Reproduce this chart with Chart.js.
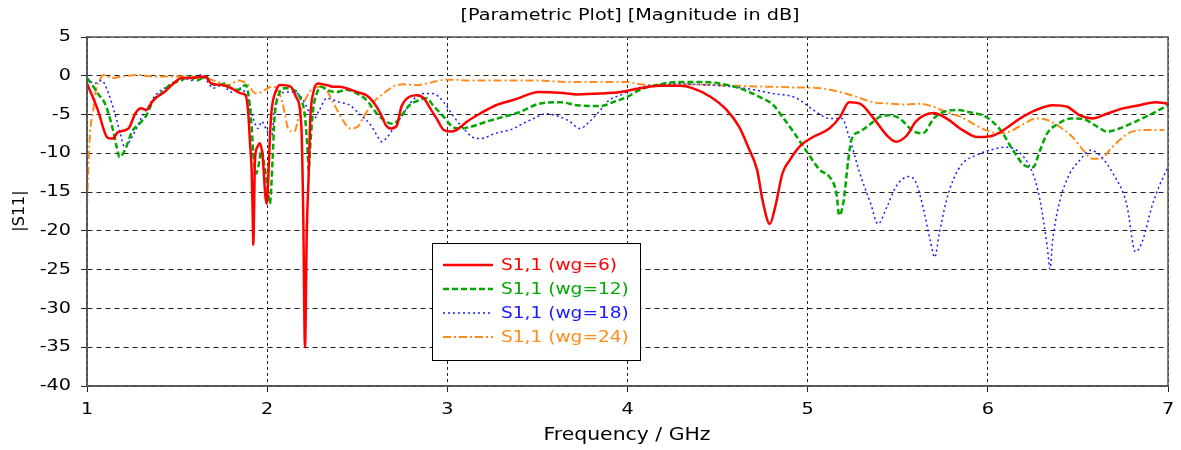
<!DOCTYPE html>
<html>
<head>
<meta charset="utf-8">
<script src="https://cdn.jsdelivr.net/npm/chart.js@4"></script>
<style>
html,body{margin:0;padding:0;background:#fff;}
#c{display:block;}
</style>
</head>
<body>
<canvas id="c" width="1181" height="450"></canvas>
<script>
const titleText = "[Parametric Plot] [Magnitude in dB]";
const xTitle = "Frequency / GHz";
const yTitle = "|S11|";
const seriesNames = ["S1,1 (wg=6)", "S1,1 (wg=12)", "S1,1 (wg=18)", "S1,1 (wg=24)"];

const redF  = [1.0,1.06,1.11,1.13,1.145,1.17,1.23,1.27,1.30,1.33,1.36,1.39,1.43,1.48,1.525,1.58,1.655,1.69,1.75,1.80,1.86,1.88,1.895,1.905,1.914,1.92,1.923,1.927,1.932,1.945,1.96,1.975,1.99,1.997,2.005,2.015,2.025,2.05,2.07,2.13,2.16,2.19,2.20,2.21,2.22,2.23,2.24,2.255,2.28,2.33,2.365,2.40,2.44,2.50,2.55,2.59,2.63,2.66,2.69,2.72,2.745,2.79,2.83,2.87,2.90,2.94,2.98,3.015,3.05,3.11,3.18,3.27,3.37,3.51,3.625,3.72,3.85,3.96,4.07,4.18,4.29,4.36,4.46,4.55,4.62,4.67,4.72,4.75,4.79,4.82,4.86,4.90,4.96,5.03,5.12,5.18,5.23,5.29,5.36,5.44,5.49,5.55,5.60,5.70,5.77,5.86,5.94,6.03,6.10,6.18,6.27,6.36,6.44,6.51,6.58,6.66,6.75,6.84,6.93,7.0];
const redDb = [-1.0,-4.4,-7.9,-8.1,-8.1,-7.3,-6.8,-4.8,-4.2,-4.4,-3.4,-2.7,-2.1,-1.0,-0.3,-0.3,-0.1,-1.0,-1.2,-1.6,-2.3,-2.5,-4.8,-8.7,-12.2,-18.2,-21.8,-18.0,-11.0,-9.2,-8.7,-10.5,-15.5,-16.5,-14.0,-8.0,-4.4,-1.9,-1.2,-1.4,-2.7,-6.6,-17.4,-35.0,-20.0,-13.0,-5.3,-2.3,-1.0,-1.2,-1.4,-1.4,-1.6,-2.1,-2.5,-3.4,-4.9,-6.4,-6.8,-6.4,-4.0,-2.7,-2.5,-2.9,-4.0,-5.5,-7.0,-7.2,-7.0,-5.9,-4.9,-3.8,-3.1,-2.1,-2.2,-2.4,-2.3,-2.1,-1.6,-1.3,-1.3,-1.6,-2.7,-4.4,-6.6,-9.2,-12.2,-16.1,-19.1,-16.9,-12.6,-10.9,-9.0,-7.9,-6.8,-5.3,-3.4,-3.6,-5.3,-7.7,-8.5,-7.7,-5.9,-4.8,-5.5,-7.0,-7.9,-7.7,-6.8,-5.5,-4.4,-3.8,-4.0,-5.1,-5.5,-4.9,-4.2,-3.8,-3.4,-3.6];

const greenF  = [1.0,1.03,1.06,1.10,1.14,1.165,1.18,1.21,1.25,1.29,1.33,1.37,1.41,1.47,1.525,1.56,1.61,1.66,1.69,1.73,1.765,1.80,1.84,1.88,1.895,1.914,1.923,1.94,1.95,1.97,1.98,2.0,2.015,2.03,2.04,2.06,2.10,2.145,2.18,2.21,2.225,2.23,2.24,2.255,2.275,2.30,2.33,2.385,2.44,2.50,2.55,2.61,2.66,2.70,2.74,2.79,2.85,2.885,2.92,2.98,3.03,3.07,3.125,3.22,3.31,3.40,3.51,3.625,3.72,3.85,3.92,4.0,4.07,4.16,4.27,4.40,4.51,4.62,4.73,4.81,4.86,4.92,4.99,5.07,5.12,5.16,5.175,5.20,5.225,5.245,5.29,5.35,5.40,5.455,5.51,5.59,5.64,5.70,5.75,5.83,5.90,5.99,6.07,6.14,6.20,6.25,6.29,6.33,6.39,6.46,6.53,6.61,6.66,6.73,6.82,6.91,7.0];
const greenDb = [-0.3,-1.2,-2.3,-3.6,-6.6,-9.2,-10.5,-9.6,-7.2,-6.2,-5.1,-3.1,-2.3,-1.0,-0.6,-0.1,-0.6,-0.1,-1.0,-1.2,-1.0,-1.6,-1.8,-1.2,-2.3,-6.6,-10.0,-12.6,-11.8,-9.6,-10.9,-14.0,-16.5,-10.9,-5.7,-2.7,-1.6,-1.8,-2.7,-5.3,-10.0,-12.2,-8.7,-4.4,-2.3,-1.4,-1.8,-2.1,-1.8,-2.3,-3.1,-4.9,-5.9,-6.2,-5.3,-3.8,-3.1,-2.9,-3.8,-5.3,-6.6,-6.8,-6.6,-5.9,-5.3,-4.7,-3.6,-3.4,-3.8,-3.9,-3.4,-2.7,-1.8,-1.2,-0.8,-0.8,-1.0,-1.6,-2.7,-3.8,-5.3,-7.2,-9.6,-12.2,-13.0,-15.2,-18.0,-16.1,-10.9,-8.1,-7.2,-6.2,-5.3,-5.1,-5.5,-7.2,-7.4,-5.5,-4.7,-4.4,-4.7,-5.3,-7.0,-9.6,-11.5,-11.8,-9.6,-7.4,-6.2,-5.5,-5.6,-6.6,-7.2,-6.8,-5.9,-4.9,-3.8];

const blueF  = [1.0,1.04,1.08,1.12,1.155,1.18,1.21,1.24,1.27,1.30,1.34,1.38,1.43,1.49,1.54,1.58,1.63,1.67,1.70,1.75,1.80,1.85,1.895,1.92,1.95,1.97,1.997,2.025,2.04,2.07,2.125,2.17,2.22,2.255,2.29,2.33,2.40,2.46,2.51,2.57,2.61,2.635,2.66,2.70,2.755,2.81,2.87,2.92,2.98,3.03,3.09,3.14,3.18,3.27,3.37,3.40,3.48,3.55,3.625,3.68,3.735,3.79,3.85,3.90,3.96,4.02,4.09,4.18,4.27,4.36,4.47,4.58,4.70,4.81,4.92,4.96,5.05,5.12,5.19,5.23,5.29,5.35,5.39,5.44,5.49,5.56,5.60,5.64,5.68,5.705,5.73,5.77,5.81,5.86,5.94,6.01,6.10,6.18,6.25,6.29,6.33,6.345,6.36,6.40,6.455,6.51,6.57,6.62,6.695,6.77,6.82,6.86,6.91,6.95,7.0];
const blueDb = [-0.3,-1.0,-0.6,-2.3,-4.9,-7.0,-9.2,-8.3,-7.0,-5.5,-4.0,-2.5,-1.6,-0.8,-0.3,-0.6,0.1,-0.8,-1.6,-1.2,-2.1,-1.6,-3.1,-5.3,-6.8,-5.9,-7.0,-7.9,-4.4,-2.3,-2.1,-2.3,-4.0,-5.7,-4.4,-2.9,-3.4,-3.8,-4.9,-6.2,-7.7,-8.5,-8.1,-6.8,-4.9,-3.1,-2.3,-2.3,-3.4,-5.1,-6.8,-7.9,-8.1,-7.4,-6.8,-6.4,-5.5,-4.9,-5.3,-5.9,-6.8,-5.9,-4.4,-3.1,-2.5,-1.8,-1.4,-1.2,-1.0,-1.1,-1.2,-1.4,-1.8,-2.3,-2.7,-3.2,-4.7,-5.5,-5.5,-7.9,-12.6,-16.5,-19.1,-16.9,-14.3,-13.0,-13.7,-16.9,-21.2,-23.4,-20.4,-16.1,-13.3,-11.3,-10.2,-9.6,-9.2,-10.0,-12.6,-16.1,-22.1,-24.9,-21.2,-16.1,-12.6,-10.9,-9.6,-10.2,-12.6,-16.5,-22.7,-21.2,-16.9,-14.3,-11.8];

const orangeF  = [1.0,1.007,1.017,1.035,1.05,1.07,1.09,1.14,1.19,1.285,1.36,1.43,1.51,1.58,1.655,1.73,1.785,1.84,1.885,1.94,1.99,2.025,2.06,2.09,2.12,2.15,2.18,2.22,2.255,2.31,2.37,2.42,2.46,2.50,2.54,2.59,2.645,2.70,2.755,2.83,2.885,2.96,3.015,3.125,3.31,3.51,3.66,3.85,4.0,4.07,4.18,4.33,4.48,4.62,4.77,4.92,5.07,5.18,5.27,5.36,5.455,5.55,5.62,5.70,5.77,5.85,5.92,5.99,6.05,6.12,6.20,6.27,6.33,6.40,6.47,6.53,6.58,6.63,6.675,6.73,6.80,6.88,6.98];
const orangeDb = [-16.9,-12.2,-7.4,-4.4,-1.8,-0.6,0.1,-0.3,-0.1,0.1,-0.1,-0.1,-0.1,-0.1,-0.3,-0.8,-1.2,-0.6,-1.0,-2.3,-1.8,-1.4,-1.8,-4.0,-7.0,-7.2,-4.9,-2.7,-1.6,-1.4,-3.6,-5.7,-6.8,-6.6,-5.1,-3.4,-2.3,-1.4,-1.1,-1.2,-1.0,-0.6,-0.5,-0.6,-0.6,-0.6,-0.8,-0.8,-0.8,-1.1,-1.2,-1.1,-1.2,-1.3,-1.4,-1.5,-1.6,-2.1,-2.7,-3.4,-3.6,-3.7,-3.6,-4.0,-4.7,-5.3,-6.2,-7.0,-7.4,-7.2,-6.2,-5.5,-5.7,-6.6,-7.9,-9.6,-10.7,-10.7,-9.6,-8.3,-7.2,-7.0,-7.0];

const xTicks = [1,2,3,4,5,6,7];
const yTicks = [5,0,-5,-10,-15,-20,-25,-30,-35,-40];

const FONT = "'DejaVu Sans', Verdana, sans-serif";
const SX = 1.2; // horizontal text stretch of the reference

function pts(f, d){ return f.map((x,i)=>({x:x, y:d[i]})); }

const styles = [
  {color:'#ff0000', width:2.5, dash:[]},
  {color:'#00a800', width:2.5, dash:[6,3]},
  {color:'#1a1aff', width:1.5, dash:[2,3]},
  {color:'#ff8c1a', width:2, dash:[8,3,2,3]}
];
const dataF = [redF, greenF, blueF, orangeF];
const dataD = [redDb, greenDb, blueDb, orangeDb];

const datasets = seriesNames.map((n,i)=>({
  label:n,
  data: pts(dataF[i], dataD[i]),
  borderColor: styles[i].color,
  backgroundColor: styles[i].color,
  borderWidth: styles[i].width,
  borderDash: styles[i].dash,
  pointRadius:0,
  showLine:true,
  fill:false,
  cubicInterpolationMode:'monotone'
}));

function txt(ctx, s, x, y, size, align, color, sx, rot){
  ctx.save();
  ctx.translate(x, y);
  if (rot) ctx.rotate(rot);
  ctx.scale(sx, 1);
  ctx.font = size + "px " + FONT;
  ctx.fillStyle = color;
  ctx.textAlign = align;
  ctx.textBaseline = 'middle';
  ctx.fillText(s, 0, 0);
  ctx.restore();
}

const framePlugin = {
  id:'frame',
  afterDraw(chart){
    const ctx = chart.ctx, a = chart.chartArea;
    const xs = chart.scales.x, ys = chart.scales.y;
    ctx.save();
    ctx.strokeStyle = '#555';
    ctx.lineWidth = 1.5;
    ctx.setLineDash([]);
    ctx.strokeRect(a.left, a.top, a.right-a.left, a.bottom-a.top);
    // tick labels
    yTicks.forEach(v=>{ txt(ctx, String(v), 71, ys.getPixelForValue(v), 16, 'right', '#000', SX); });
    xTicks.forEach(v=>{ txt(ctx, String(v), xs.getPixelForValue(v), 410, 16, 'center', '#000', SX); });
    // titles
    txt(ctx, titleText, 630, 16, 16, 'center', '#000', SX);
    txt(ctx, xTitle, 627, 436, 17, 'center', '#000', SX);
    txt(ctx, yTitle, 20, 211, 16, 'center', '#000', 1, -Math.PI/2);
    // legend
    const lx = 432, ly = 243, lw = 208, lh = 117;
    ctx.fillStyle = '#fff';
    ctx.fillRect(lx, ly, lw, lh);
    ctx.strokeStyle = '#000';
    ctx.lineWidth = 1;
    ctx.strokeRect(lx+0.5, ly+0.5, lw, lh);
    const rows = [265, 289, 313, 337];
    chart.data.datasets.forEach((ds,i)=>{
      const y = rows[i];
      ctx.strokeStyle = ds.borderColor;
      ctx.lineWidth = ds.borderWidth;
      ctx.setLineDash(ds.borderDash);
      ctx.beginPath();
      ctx.moveTo(443, y); ctx.lineTo(493, y);
      ctx.stroke();
      ctx.setLineDash([]);
      txt(ctx, ds.label, 501, y+1, 16, 'left', ds.borderColor, 1.16);
    });
    ctx.restore();
  }
};

new Chart(document.getElementById('c'), {
  type:'scatter',
  data:{datasets},
  plugins:[framePlugin],
  options:{
    responsive:false,
    animation:false,
    devicePixelRatio:1,
    layout:{padding:{top:37, right:13, left:0, bottom:0}},
    plugins:{legend:{display:false}, title:{display:false}, tooltip:{enabled:false}},
    scales:{
      x:{
        type:'linear', min:1, max:7,
        afterFit(s){ s.height = 64; },
        afterBuildTicks(s){ s.ticks = xTicks.map(v=>({value:v})); },
        ticks:{ display:false },
        grid:{ color:'#222', lineWidth:1, tickLength:6, tickColor:'#222' },
        border:{ display:true, color:'#555', width:1.5, dash:[3,3] }
      },
      y:{
        type:'linear', min:-40, max:5,
        afterFit(s){ s.width = 87; },
        afterBuildTicks(s){ s.ticks = yTicks.map(v=>({value:v})); },
        ticks:{ display:false },
        grid:{ color:'#222', lineWidth:1, tickLength:6, tickColor:'#222' },
        border:{ display:true, color:'#555', width:1.5, dash:[5,4] }
      }
    }
  }
});
</script>
</body>
</html>
